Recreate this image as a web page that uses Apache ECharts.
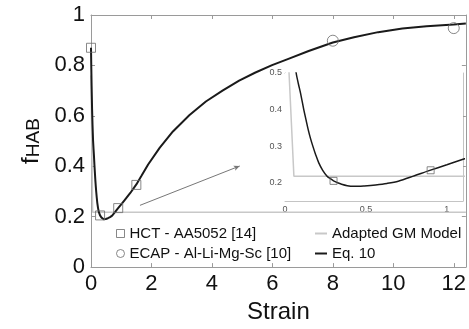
<!DOCTYPE html>
<html>
<head>
<meta charset="utf-8">
<script src="https://cdn.jsdelivr.net/npm/echarts@6/dist/echarts.min.js"></script>
<style>html,body{margin:0;padding:0;background:#fff}#c{width:469px;height:329px}</style>
</head>
<body>
<div id="c"></div>
<script>
// ---- data ----
const hctStrain = [0, 0.3, 0.9, 1.5];
const hctF = [0.87, 0.205, 0.234, 0.326];
const ecapStrain = [8, 12];
const ecapF = [0.898, 0.948];
const gmStrain = [0, 0.025, 0.055, 12.4];
const gmF = [0.76, 0.5, 0.218, 0.218];
const eqStrain = [0, 0.01, 0.02, 0.035, 0.05, 0.069, 0.083, 0.096, 0.116, 0.13, 0.143, 0.157, 0.172, 0.19, 0.208, 0.233, 0.26, 0.28, 0.30, 0.325, 0.35, 0.385, 0.42, 0.455, 0.49, 0.56, 0.63, 0.7, 0.8, 0.89, 1.0, 1.1, 1.3, 1.5, 1.67, 1.89, 2.27, 2.71, 3.26, 3.8, 4.35, 4.9, 5.44, 5.99, 6.53, 7.2, 8.0, 8.7, 9.5, 10.3, 11.1, 12.0, 12.4];
const eqF = [0.87, 0.79, 0.72, 0.63, 0.565, 0.5, 0.47, 0.445, 0.40, 0.372, 0.346, 0.322, 0.30, 0.276, 0.255, 0.234, 0.218, 0.211, 0.205, 0.2, 0.196, 0.192, 0.19, 0.19, 0.191, 0.194, 0.198, 0.204, 0.219, 0.233, 0.249, 0.264, 0.294, 0.328, 0.362, 0.407, 0.473, 0.538, 0.603, 0.657, 0.700, 0.740, 0.772, 0.801, 0.826, 0.857, 0.891, 0.912, 0.932, 0.946, 0.955, 0.962, 0.966];
const xTicks = [0, 2, 4, 6, 8, 10, 12];
const yTicks = [0, 0.2, 0.4, 0.6, 0.8, 1];
const insetXTicks = [0, 0.5, 1];
const insetYTicks = [0.2, 0.3, 0.4, 0.5];
const arrowFrom = [1.62, 0.245];
const arrowTo = [4.92, 0.401];
const names = ['HCT - AA5052 [14]', 'ECAP - Al-Li-Mg-Sc [10]', 'Adapted GM Model', 'Eq. 10'];

const zip = (a, b) => a.map((v, i) => [v, b[i]]);
const FONT = 'Liberation Sans, Arial, Helvetica, sans-serif';
const axisGrey = '#9a9a9a';
const insetGrey = '#c4c4c4';
const gmColor = '#c8c8c8';
const eqColor = '#1a1a1a';

const chart = echarts.init(document.getElementById('c'), null, {renderer: 'canvas'});

function mainX(pos, show) {
  return {
    type: 'value', gridIndex: 0, position: pos, min: 0, max: 12.4,
    name: show ? 'Strain' : '', nameLocation: 'middle', nameGap: 31,
    nameTextStyle: {fontFamily: FONT, fontSize: 24, color: '#111'},
    axisLine: {show: true, onZero: false, lineStyle: {color: axisGrey, width: 1}},
    axisTick: {show: true, inside: true, length: 4, customValues: xTicks, lineStyle: {color: axisGrey}},
    axisLabel: {show: show, customValues: xTicks, margin: 6, fontFamily: FONT, fontSize: 22, color: '#111'},
    splitLine: {show: false}
  };
}
function mainY(pos, show) {
  return {
    type: 'value', gridIndex: 0, position: pos, min: 0, max: 1,
    name: show ? '{f|f}{s|HAB}' : '', nameLocation: 'middle', nameGap: 43, nameRotate: 90,
    nameTextStyle: {fontFamily: FONT, color: '#111', rich: {
      f: {fontFamily: FONT, fontSize: 24, color: '#111', verticalAlign: 'top', lineHeight: 24},
      s: {fontFamily: FONT, fontSize: 19, color: '#111', verticalAlign: 'bottom', lineHeight: 19, padding: [13, 0, 0, 0]}
    }},
    axisLine: {show: true, onZero: false, lineStyle: {color: axisGrey, width: 1}},
    axisTick: {show: true, inside: true, length: 4, customValues: yTicks, lineStyle: {color: axisGrey}},
    axisLabel: {show: show, customValues: yTicks, margin: 6, fontFamily: FONT, fontSize: 22, color: '#111'},
    splitLine: {show: false}
  };
}
function insetX(pos, show) {
  return {
    type: 'value', gridIndex: 1, position: pos, min: 0, max: 1.1,
    axisLine: {show: true, onZero: false, lineStyle: {color: insetGrey, width: 1}},
    axisTick: {show: true, inside: true, length: 3, customValues: insetXTicks, lineStyle: {color: insetGrey}},
    axisLabel: {show: show, customValues: insetXTicks, margin: 4, fontFamily: FONT, fontSize: 9, color: '#555'},
    splitLine: {show: false}
  };
}
function insetY(pos, show) {
  return {
    type: 'value', gridIndex: 1, position: pos, min: 0.15, max: 0.5,
    axisLine: {show: true, onZero: false, lineStyle: {color: insetGrey, width: 1}},
    axisTick: {show: true, inside: true, length: 3, customValues: insetYTicks, lineStyle: {color: insetGrey}},
    axisLabel: {show: show, customValues: insetYTicks, margin: 3, fontFamily: FONT, fontSize: 9, color: '#555'},
    splitLine: {show: false}
  };
}

const hollow = {color: 'rgba(255,255,255,0)', borderColor: '#6a6a6a', borderWidth: 1};

function seriesFor(inset) {
  const xi = inset ? 2 : 0, yi = inset ? 2 : 0, dz = inset ? 10 : 0;
  const s = [
    {name: names[2], type: 'line', xAxisIndex: xi, yAxisIndex: yi, data: zip(gmStrain, gmF),
      symbol: 'none', itemStyle: {color: gmColor}, lineStyle: {color: gmColor, width: 1.5}, z: 2 + dz, silent: true, clip: true},
    {name: names[3], type: 'line', xAxisIndex: xi, yAxisIndex: yi, data: zip(eqStrain, eqF),
      symbol: 'none', smooth: inset ? 0.3 : false, itemStyle: {color: eqColor}, lineStyle: {color: eqColor, width: inset ? 1.5 : 2}, z: 3 + dz, silent: true, clip: true},
    {name: names[0], type: 'scatter', xAxisIndex: xi, yAxisIndex: yi, data: zip(hctStrain, hctF),
      symbol: 'rect', symbolSize: inset ? 7 : 9, itemStyle: hollow, z: 4 + dz, silent: true, clip: true},
    {name: names[1], type: 'scatter', xAxisIndex: xi, yAxisIndex: yi, data: zip(ecapStrain, ecapF),
      symbol: 'circle', symbolSize: 11, itemStyle: hollow, z: 4 + dz, silent: true, clip: true}
  ];
  if (!inset) {
    s.push({type: 'line', xAxisIndex: xi, yAxisIndex: yi, data: [], silent: true,
      markLine: {silent: true, symbol: ['none', 'arrow'], symbolSize: [4, 6], animation: false,
        label: {show: false}, lineStyle: {color: '#777', width: 1, type: 'solid'},
        data: [[{coord: arrowFrom}, {coord: arrowTo}]]}});
  }
  return s;
}

const noSym = {color: 'rgba(0,0,0,0)', borderWidth: 0, opacity: 0};

const option = {
  animation: false,
  backgroundColor: '#fff',
  textStyle: {fontFamily: FONT},
  grid: [
    {left: 91, top: 15, width: 378, height: 256, containLabel: false},
    {left: 285, top: 73, width: 178, height: 128, show: true, backgroundColor: '#fff', borderWidth: 0, z: 5}
  ],
  xAxis: [mainX('bottom', true), mainX('top', false), insetX('bottom', true), insetX('top', false)],
  yAxis: [mainY('left', true), mainY('right', false), insetY('left', true), insetY('right', false)],
  legend: [
    {left: 116, top: 226, padding: 0, orient: 'vertical', itemGap: 5, itemWidth: 8, itemHeight: 8, itemTextGap: 6,
      textStyle: {fontFamily: FONT, fontSize: 15, color: '#111'}, selectedMode: false,
      data: [
        {name: names[0], icon: 'rect', itemStyle: hollow},
        {name: names[1], icon: 'circle', itemStyle: hollow}
      ]},
    {left: 314, top: 226, padding: 0, orient: 'vertical', itemGap: 5, itemWidth: 12, itemHeight: 8, itemTextGap: 1,
      textStyle: {fontFamily: FONT, fontSize: 15, color: '#111'}, selectedMode: false,
      data: [
        {name: names[2], itemStyle: noSym},
        {name: names[3], itemStyle: noSym}
      ]}
  ],
  series: [].concat(seriesFor(false), seriesFor(true))
};
chart.setOption(option);
</script>
</body>
</html>
